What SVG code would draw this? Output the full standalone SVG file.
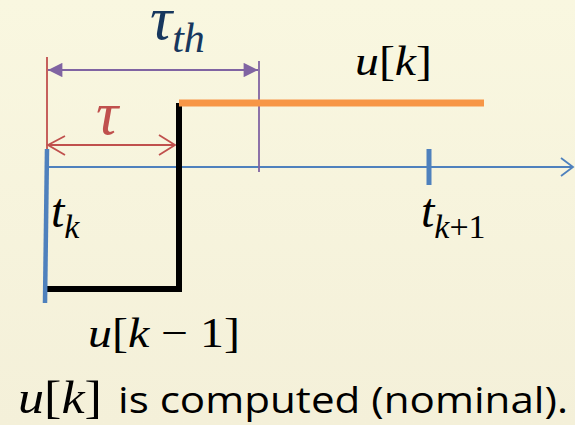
<svg xmlns="http://www.w3.org/2000/svg" width="575" height="425" viewBox="0 0 575 425">
<defs>
<linearGradient id="bg" x1="0" y1="0" x2="0" y2="1">
<stop offset="0" stop-color="#F9F7E0"/>
<stop offset="1" stop-color="#F4F0D9"/>
</linearGradient>
<marker id="purpleHead" viewBox="0 0 10 10" refX="10" refY="5" markerWidth="8.5" markerHeight="8" markerUnits="strokeWidth" orient="auto-start-reverse">
<path d="M0,0 L10,5 L0,10 z" fill="#8064A2"/>
</marker>
</defs>
<style>
.m{font-family:"Liberation Serif","DejaVu Serif",serif;font-style:italic;}
.r{font-family:"Liberation Serif","DejaVu Serif",serif;font-style:normal;}
.s{font-family:"Open Sans","Liberation Sans",sans-serif;}
</style>
<rect width="575" height="425" fill="url(#bg)"/>
<g id="connectors" fill="none">
<line x1="47" y1="167" x2="572" y2="167" stroke="#4F81BD" stroke-width="1.8"/>
<polyline points="561,158 573,167 561,176" stroke="#4F81BD" stroke-width="1.8"/>
<line x1="47" y1="57" x2="47" y2="167" stroke="#C0504D" stroke-width="1.8"/>
<line x1="259" y1="61" x2="259" y2="172" stroke="#8064A2" stroke-width="1.8"/>
<line x1="48" y1="70" x2="258" y2="70" stroke="#8064A2" stroke-width="1.8" marker-start="url(#purpleHead)" marker-end="url(#purpleHead)"/>
<line x1="48" y1="145" x2="175" y2="145" stroke="#C0504D" stroke-width="1.8"/>
<polyline points="65,136 48,145 65,155" stroke="#C0504D" stroke-width="1.8"/>
<polyline points="159,135 175,145 159,155" stroke="#C0504D" stroke-width="1.8"/>
</g>
<g id="signal-prev">
<polyline points="47,289 179,289 179,103" fill="none" stroke="#000" stroke-width="6"/>
</g>
<g id="signal-uk">
<line x1="179" y1="103" x2="484" y2="103" stroke="#F79646" stroke-width="7"/>
</g>
<g id="tick-tk">
<line x1="47" y1="149" x2="45" y2="303" stroke="#4F81BD" stroke-width="4.5"/>
<text x="51" y="227" class="m" font-size="48" fill="#000">t<tspan dy="11" font-size="34">k</tspan></text>
</g>
<g id="tick-tk1">
<line x1="429" y1="149" x2="429" y2="185" stroke="#4F81BD" stroke-width="5"/>
<text x="421" y="227" class="m" font-size="48" fill="#000">t<tspan dy="11" font-size="34">k</tspan><tspan class="r" font-size="34">+1</tspan></text>
</g>
<g id="label-tauth">
<text x="150" y="39" class="m" font-size="62" fill="#17375E">τ<tspan dy="13" font-size="42">th</tspan></text>
</g>
<g id="label-tau">
<text x="96" y="134" class="m" font-size="62" fill="#C0504D">τ</text>
</g>
<g id="label-uk">
<text x="355" y="75" class="m" font-size="42" fill="#000" textLength="77" lengthAdjust="spacingAndGlyphs">u<tspan class="r">[</tspan>k<tspan class="r">]</tspan></text>
</g>
<g id="label-ukm1">
<text x="88" y="347" class="m" font-size="42" fill="#000" textLength="152" lengthAdjust="spacingAndGlyphs">u<tspan class="r">[</tspan>k<tspan class="r"> − 1]</tspan></text>
</g>
<g id="caption">
<text x="18" y="413" class="m" font-size="46" fill="#000" textLength="84" lengthAdjust="spacingAndGlyphs">u<tspan class="r">[</tspan>k<tspan class="r">]</tspan></text>
<text x="118" y="413" class="s" font-size="37" fill="#000" textLength="450" lengthAdjust="spacingAndGlyphs">is computed (nominal).</text>
</g>
</svg>
